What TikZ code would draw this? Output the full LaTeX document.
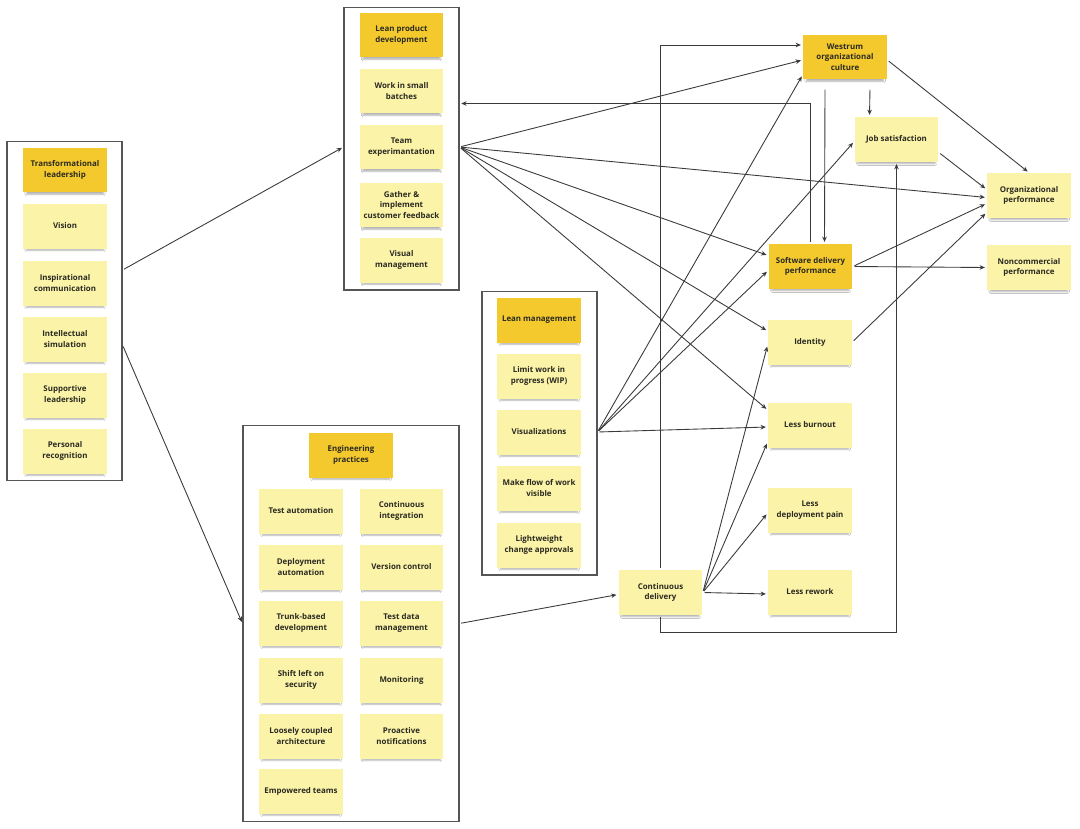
\documentclass[tikz,border=0pt]{standalone}
\usepackage{fontspec}
\setmainfont{Open Sans}
\usetikzlibrary{calc,arrows.meta,shadows.blur}

\definecolor{notelight}{HTML}{FBF3A8}
\definecolor{notedark}{HTML}{F4C92E}
\definecolor{notetext}{HTML}{2A2A22}
\definecolor{boxgray}{HTML}{555555}
\definecolor{linegray}{HTML}{3A3A3A}

\tikzset{
    note/.style={rectangle, fill=notelight, minimum width=1.68cm, minimum height=0.9cm, inner sep=1pt, align=center, text=notetext, font=\fontsize{4.5}{6}\selectfont\bfseries, blur shadow={shadow xshift=0pt, shadow yshift=-2.2pt, shadow scale=0.92, shadow opacity=30, shadow blur radius=1pt}},
    darknote/.style={note, fill=notedark},
    groupbox/.style={rectangle, draw=boxgray, line width=0.6pt, fill=white, inner sep=0pt},
    conn/.style={draw=linegray, line width=0.5pt, -{Stealth[length=3pt,width=2.6pt]}, shorten >=1pt, shorten <=1pt}
}

\begin{document}
\begin{tikzpicture}[x=0.02cm, y=-0.02cm]
        \useasboundingbox[fill=white] (0,0) rectangle (1080,829);

        \node[groupbox, minimum width=2.3cm, minimum height=6.8cm] (TLbox) at (64.5,311) {};
        \node[groupbox, minimum width=2.3cm, minimum height=5.66cm] (LPDbox) at (401.5,148.5) {};
        \node[groupbox, minimum width=2.3cm, minimum height=5.68cm] (LMbox) at (539.5,433) {};
        \node[groupbox, minimum width=4.32cm, minimum height=7.94cm] (EPbox) at (351,623.5) {};

        \node[darknote] (TL) at (65,170) {Transformational\\leadership};
        \node[note] (Vision) at (65,226) {Vision};
        \node[note] (Insp) at (65,283) {Inspirational\\communication};
        \node[note] (Intel) at (65,339) {Intellectual\\simulation};
        \node[note] (Supp) at (65,395) {Supportive\\leadership};
        \node[note] (Pers) at (65,451) {Personal\\recognition};

        \node[darknote] (LPD) at (401.5,35) {Lean product\\development};
        \node[note] (Batches) at (401.5,91) {Work in small\\batches};
        \node[note] (Team) at (401.5,147) {Team\\experimantation};
        \node[note] (Feedback) at (401.5,205) {Gather \&\\implement\\customer feedback};
        \node[note] (Visual) at (401.5,260) {Visual\\management};

        \node[darknote] (LM) at (539,320) {Lean management};
        \node[note] (WIP) at (539,376) {Limit work in\\progress (WIP)};
        \node[note] (Vis) at (539,432) {Visualizations};
        \node[note] (Flow) at (539,488) {Make flow of work\\visible};
        \node[note] (Approvals) at (539,545) {Lightweight\\change approvals};

        \node[darknote] (EP) at (351,455) {Engineering\\practices};
        \node[note] (TestAuto) at (301,511) {Test automation};
        \node[note] (DeployAuto) at (301,567) {Deployment\\automation};
        \node[note] (Trunk) at (301,623) {Trunk-based\\development};
        \node[note] (Security) at (301,680) {Shift left on\\security};
        \node[note] (Loose) at (301,736) {Loosely coupled\\architecture};
        \node[note] (Empowered) at (301,791) {Empowered teams};
        \node[note] (CI) at (401.5,511) {Continuous\\integration};
        \node[note] (VC) at (401.5,567) {Version control};
        \node[note] (TestData) at (401.5,623) {Test data\\management};
        \node[note] (Monitoring) at (401.5,680) {Monitoring};
        \node[note] (Notify) at (401.5,736) {Proactive\\notifications};

        \node[note] (CD) at (660.5,592.5) {Continuous\\delivery};
        \node[darknote] (Westrum) at (845,57) {Westrum\\organizational\\culture};
        \node[note] (JobSat) at (896.5,139.5) {Job satisfaction};
        \node[darknote] (SDP) at (810.5,266.5) {Software delivery\\performance};
        \node[note] (Identity) at (810,342) {Identity};
        \node[note] (Burnout) at (810,425) {Less burnout};
        \node[note] (DeployPain) at (810,510) {Less\\deployment pain};
        \node[note] (Rework) at (810,592) {Less rework};
        \node[note] (OrgPerf) at (1029,195.5) {Organizational\\performance};
        \node[note] (NonComm) at (1029,267.5) {Noncommercial\\performance};

        \draw[conn] ($(TLbox.east)+(0,-41)$) -- (LPDbox.west |- Team);
        \draw[conn] ($(TLbox.east)+(0,34)$) -- (EPbox.west);
        \draw[conn] (EPbox.east) -- ($(CD.west)+(0,2)$);
        \draw[conn] (LPDbox.east |- Team) -- ($(Westrum.west)+(0,3)$);
        \draw[conn] (LPDbox.east |- Team) -- ($(OrgPerf.west)+(0,2)$);
        \draw[conn] (LPDbox.east |- Team) -- ($(SDP.west)+(0,-11)$);
        \draw[conn] (LPDbox.east |- Team) -- ($(Identity.west)+(0,-11)$);
        \draw[conn] (LPDbox.east |- Team) -- ($(Burnout.west)+(0,-15)$);
        \draw[conn] (SDP.north) |- ($(LPDbox.east)+(0,-45)$);
        \draw[conn] (LMbox.east |- Vis) -- ($(Westrum.south west)+(0,-5)$);
        \draw[conn] (LMbox.east |- Vis) -- ($(JobSat.west)+(0,2)$);
        \draw[conn] (LMbox.east |- Vis) -- ($(SDP.west)+(0,4)$);
        \draw[conn] (LMbox.east |- Vis) -- ($(Burnout.west)+(0,2)$);
        \draw[conn] (CD.north) |- ($(Westrum.west)+(0,-12)$);
        \draw[conn] (CD.south) -- ++(0,17) -| (JobSat.south);
        \draw[conn] (CD.east) -- ($(Identity.south west)+(0,-20)$);
        \draw[conn] (CD.east) -- ($(Burnout.west)+(0,17)$);
        \draw[conn] (CD.east) -- ($(DeployPain.west)+(0,3)$);
        \draw[conn] (CD.east) -- ($(Rework.west)+(0,2)$);
        \draw[conn] ($(Westrum.east)+(0,3)$) -- (OrgPerf.north);
        \draw[conn] ($(Westrum.south)+(25,8)$) -- ($(JobSat.north)+(-27,0)$);
        \draw[conn] ($(Westrum.south)+(-20,8)$) -- ($(SDP.north)+(14,0)$);
        \draw[conn] ($(JobSat.east)+(0,13)$) -- ($(OrgPerf.west)+(0,-6)$);
        \draw[conn] (SDP.east) -- ($(OrgPerf.west)+(0,8)$);
        \draw[conn] (SDP.east) -- (NonComm.west);
        \draw[conn] (Identity.east) -- ($(OrgPerf.west)+(0,17)$);
    \end{tikzpicture}
\end{document}
